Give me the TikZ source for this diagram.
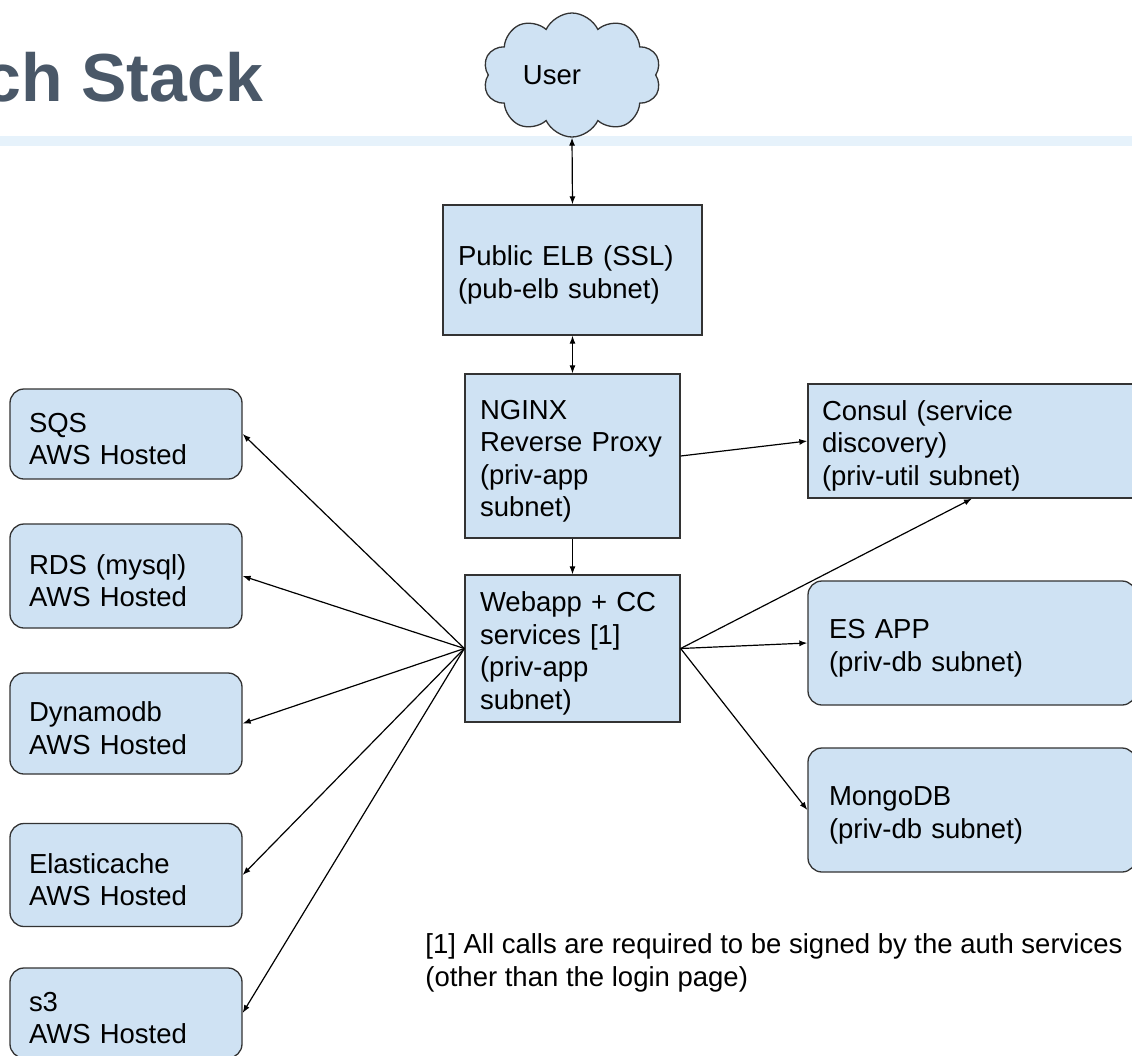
\documentclass[tikz,border=0pt]{standalone}
\usepackage{fontspec}
\setmainfont{Liberation Sans}
\usetikzlibrary{shapes.symbols,arrows.meta}

\definecolor{boxfill}{HTML}{CFE2F3}
\definecolor{boxline}{HTML}{333333}
\definecolor{titlegray}{HTML}{4A5868}
\definecolor{bandblue}{HTML}{E6F2FB}

\tikzset{
  txt/.style={font=\fontsize{13.75pt}{16.3pt}\selectfont},
  box/.style={txt, draw=boxline, fill=boxfill, line width=0.65pt, align=left, inner xsep=7.5pt, inner ysep=0pt,
              execute at begin node={\rule{0pt}{14.8pt}}},
  rbox/.style={box, rounded corners=7pt, inner xsep=9.5pt},
  link/.style={line width=0.6pt, -{Latex[length=4pt,width=3pt]}},
  twoway/.style={line width=0.6pt, {Latex[length=4pt,width=3pt]}-{Latex[length=4pt,width=3pt]}}
}

\begin{document}
\begin{tikzpicture}[x=0.5pt,y=-0.5pt]
\useasboundingbox (0,0) rectangle (1132,1056);
\clip (0,0) rectangle (1132,1056);

% header
\fill[bandblue] (0,136) rectangle (1132,146);
\node[anchor=base west, inner sep=0pt, text=titlegray, font=\fontsize{34pt}{40pt}\selectfont\bfseries] (title) at (-17,101) {ch Stack};

% middle column
\node[txt, cloud, cloud puffs=10, cloud puff arc=130, aspect=1.4, draw=boxline, fill=boxfill, line width=0.65pt,
      minimum width=89pt, minimum height=62pt, inner sep=0pt] (user) at (572,75) {User\hspace*{20pt}};
\node[box, text width=114.5pt, minimum height=65pt] (elb) at (572.5,270) {Public ELB (SSL)\\(pub-elb subnet)};
\node[box, text width=92.5pt, minimum height=82pt] (nginx) at (572.5,456) {NGINX\\Reverse Proxy\\(priv-app\\subnet)};
\node[box, text width=92.5pt, minimum height=73.5pt] (webapp) at (572.5,648.5) {Webapp + CC\\services [1]\\(priv-app\\subnet)};

% right column
\node[box, inner xsep=7pt, text width=150pt, minimum height=57pt] (consul) at (972,441) {Consul (service\\discovery)\\(priv-util subnet)};
\node[rbox, inner xsep=10.5pt, text width=143pt, minimum height=62pt] (es) at (972,643) {ES APP\\(priv-db subnet)};
\node[rbox, inner xsep=10.5pt, text width=143pt, minimum height=62pt] (mongo) at (972,810) {MongoDB\\(priv-db subnet)};

% left column
\node[rbox, text width=97pt, minimum height=45pt] (sqs) at (126,434) {SQS\\AWS Hosted};
\node[rbox, text width=97pt, minimum height=52pt] (rds) at (126,576) {RDS (mysql)\\AWS Hosted};
\node[rbox, text width=97pt, minimum height=50.5pt] (dyn) at (126,723.5) {Dynamodb\\AWS Hosted};
\node[rbox, text width=97pt, minimum height=51.5pt] (ela) at (126,875) {Elasticache\\AWS Hosted};
\node[rbox, text width=97pt, minimum height=45pt] (sthree) at (126,1013) {s3\\AWS Hosted};

% footnote
\node[txt, anchor=west, align=left, inner sep=0pt] (note) at (425,963) {[1] All calls are required to be signed by the auth services\\(other than the login page)};

% connectors
\draw[twoway] (user.south) -- (elb.north);
\draw[twoway] (elb.south) -- (nginx.north);
\draw[link] (nginx.south) -- (webapp.north);
\draw[link] (nginx.east) -- (consul.west);
\foreach \n in {sqs,rds,dyn,ela,sthree}
  \draw[link] (webapp.west) -- (\n.east);
\draw[link] (webapp.east) -- (consul.south);
\draw[link] (webapp.east) -- (es.west);
\draw[link] (webapp.east) -- (mongo.west);
\end{tikzpicture}
\end{document}
